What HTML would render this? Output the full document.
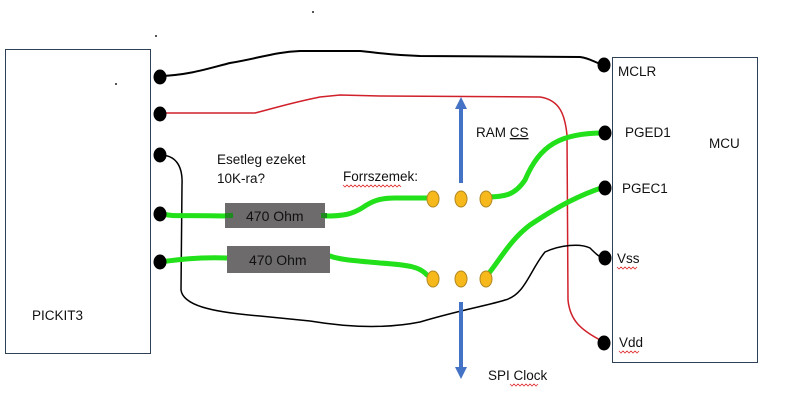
<!DOCTYPE html>
<html><head><meta charset="utf-8"><style>
html,body{margin:0;padding:0;background:#fff;width:793px;height:414px;overflow:hidden}
svg{display:block}
text{font-family:"Liberation Sans",sans-serif;font-size:13.5px;fill:#111}
</style></head><body>
<svg width="793" height="414" viewBox="0 0 793 414" xmlns="http://www.w3.org/2000/svg">
<rect x="5.5" y="49.5" width="145" height="304" fill="none" stroke="#2f4156" stroke-width="1"/>
<rect x="612.5" y="57.5" width="145" height="305" fill="none" stroke="#2f4156" stroke-width="1"/>
<g fill="#555"><rect x="155" y="35" width="2" height="2"/><rect x="312" y="11" width="2" height="2"/><rect x="115" y="83" width="2" height="2"/></g>
<path d="M160,76 C190,75 210,68 230,63 C260,58 275,52 300,51 L360,51 C380,53 390,55 420,56 L580,57 C590,58 595,63 604,65" fill="none" stroke="#000" stroke-width="2"/>
<path d="M160,113 L255,113 C275,108 290,103 320,97 L340,95 L380,96 L540,97 C560,100 565,115 567,135 L568,300 C570,320 580,330 604,342" fill="none" stroke="#d0202a" stroke-width="1.5"/>
<path d="M160,155 C175,155 183,165 182,185 L181,290 C183,305 210,312 260,316 L310,321 C340,326 380,330 420,322 C460,310 490,305 505,300 C525,295 530,270 545,252 C560,245 580,243 590,248 C595,253 600,258 604,258" fill="none" stroke="#000" stroke-width="1.5"/>
<g fill="none" stroke="#22e01a" stroke-width="5" stroke-linecap="round">
<path d="M160,213 C170,217 180,215 225,216"/>
<path d="M325,216 C345,216 352,214 362,208 C372,201 380,198 395,198 L433,198"/>
<path d="M486,197 C505,197 515,195 525,180 C540,145 560,133 604,133"/>
<path d="M160,262 C175,260 195,257 227,258"/>
<path d="M330,256 C340,260 360,261 380,263 C410,265 420,267 427,275"/>
<path d="M486,277 C500,260 510,240 530,225 C560,205 580,195 604,187"/>
</g>
<rect x="225" y="203" width="100" height="25" fill="#6d6b6b"/>
<rect x="227" y="246" width="103" height="27" fill="#6d6b6b"/>
<rect x="225" y="213" width="8" height="5" fill="#1e8a1e"/>
<rect x="321" y="213" width="6" height="5" fill="#1e8a1e"/>
<text x="246" y="221" style="font-size:14px">470 Ohm</text>
<text x="249" y="265" style="font-size:14px">470 Ohm</text>
<g fill="#f7b81c" stroke="#b08820" stroke-width="1">
<ellipse cx="433" cy="199" rx="6" ry="8"/><ellipse cx="461" cy="199" rx="6" ry="8"/><ellipse cx="486" cy="199" rx="6" ry="8"/>
<ellipse cx="433" cy="279" rx="6" ry="8"/><ellipse cx="461" cy="279" rx="6" ry="8"/><ellipse cx="486" cy="279" rx="6" ry="8"/>
</g>
<g stroke="#4472c4" stroke-width="4" fill="#4472c4">
<line x1="461" y1="183" x2="461" y2="108"/>
<line x1="461" y1="302" x2="461" y2="368"/>
</g>
<polygon points="455,109 467,109 461,97" fill="#4472c4"/>
<polygon points="455,367 467,367 461,379" fill="#4472c4"/>
<g fill="#000">
<ellipse cx="160" cy="77" rx="6.5" ry="7.5"/><ellipse cx="160" cy="114" rx="6.5" ry="7.5"/><ellipse cx="160" cy="155" rx="6.5" ry="7.5"/><ellipse cx="160" cy="214" rx="6.5" ry="7.5"/><ellipse cx="160" cy="262" rx="6.5" ry="7.5"/>
<ellipse cx="604" cy="65" rx="6.5" ry="7.5"/><ellipse cx="605" cy="133" rx="6.5" ry="7.5"/><ellipse cx="605" cy="188" rx="6.5" ry="7.5"/><ellipse cx="605" cy="258" rx="6.5" ry="7.5"/><ellipse cx="604" cy="343" rx="6.5" ry="7.5"/>
</g>
<text x="217" y="164">Esetleg ezeket</text>
<text x="217" y="183">10K-ra?</text>
<text x="343" y="181">Forrszemek:</text>
<text x="476" y="137">RAM <tspan text-decoration="underline">CS</tspan></text>
<text x="488" y="380">SPI Clock</text>
<text x="618" y="76">MCLR</text>
<text x="625" y="137">PGED1</text>
<text x="709" y="148">MCU</text>
<text x="622" y="193">PGEC1</text>
<text x="617" y="263">Vss</text>
<text x="619" y="347">Vdd</text>
<text x="32" y="320">PICKIT3</text>
<g fill="none" stroke="#e03030" stroke-width="0.8">
<path d="M343,185 l2,2 l2,-2 l2,2 l2,-2 l2,2 l2,-2 l2,2 l2,-2 l2,2 l2,-2 l2,2 l2,-2 l2,2 l2,-2 l2,2 l2,-2 l2,2 l2,-2 l2,2 l2,-2 l2,2 l2,-2 l2,2 l2,-2 l2,2 l2,-2 l2,2 l2,-2 l2,2"/>
<path d="M617,267 l2,2 l2,-2 l2,2 l2,-2 l2,2 l2,-2 l2,2 l2,-2 l2,2 l2,-2"/>
<path d="M619,351 l2,2 l2,-2 l2,2 l2,-2 l2,2 l2,-2 l2,2 l2,-2 l2,2 l2,-2"/>
<path d="M510,384 l2,2 l2,-2 l2,2 l2,-2 l2,2 l2,-2 l2,2 l2,-2 l2,2 l2,-2 l2,2 l2,-2 l2,2 l2,-2"/>
</g>
</svg>
</body></html>
